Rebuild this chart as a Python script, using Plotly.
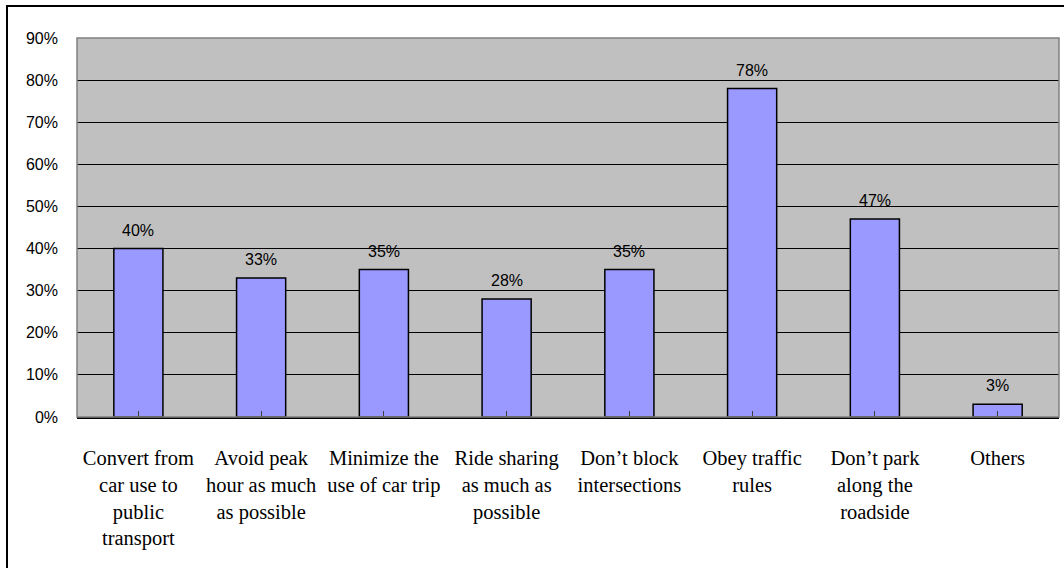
import plotly.graph_objects as go

categories = [
    "Convert from<br>car use to<br>public<br>transport",
    "Avoid peak<br>hour as much<br>as possible",
    "Minimize the<br>use of car trip",
    "Ride sharing<br>as much as<br>possible",
    "Don\u2019t block<br>intersections",
    "Obey traffic<br>rules",
    "Don\u2019t park<br>along the<br>roadside",
    "Others",
]
values = [40, 33, 35, 28, 35, 78, 47, 3]
y_ticks = [0, 10, 20, 30, 40, 50, 60, 70, 80, 90]
y_tick_labels = [f"{v}%" for v in y_ticks]

fig = go.Figure()
fig.add_trace(go.Bar(
    x=list(range(len(categories))),
    y=values,
    marker=dict(color="#9999FF", line=dict(color="#000000", width=1.5)),
    hoverinfo="skip",
))

# value labels above each bar
for i, v in enumerate(values):
    fig.add_annotation(
        x=i, y=v, text=f"{v}%", showarrow=False,
        yanchor="bottom", yshift=8,
        font=dict(family="Liberation Sans, Arial", size=16, color="#000000"),
    )

# plot area outline (grey) and outer frame (left/top edges visible)
fig.add_shape(type="rect", xref="paper", yref="paper", x0=0, y0=0, x1=1, y1=1,
              line=dict(color="#808080", width=1.5), layer="above")
fig.add_shape(type="rect", xref="paper", yref="paper",
              x0=(7 - 77) / 982, y0=1 + 32 / 379, x1=1.2, y1=-0.6,
              line=dict(color="#000000", width=2), layer="above")

fig.update_layout(
    width=1064, height=568,
    margin=dict(l=77, r=5, t=38, b=151),
    paper_bgcolor="#FFFFFF",
    plot_bgcolor="#C0C0C0",
    bargap=0.6,
    showlegend=False,
    xaxis=dict(
        tickmode="array",
        tickvals=list(range(len(categories))),
        ticktext=categories,
        range=[-0.5, len(categories) - 0.5],
        tickson="boundaries",
        ticks="inside", ticklen=6, tickcolor="#404040", tickwidth=1,
        showgrid=False,
        showline=True, linecolor="#000000", linewidth=1.5,
        ticklabelstandoff=22,
        tickfont=dict(family="Liberation Serif, Times New Roman", size=20.5, color="#000000"),
        fixedrange=True,
    ),
    yaxis=dict(
        range=[0, 90],
        tickmode="array",
        tickvals=y_ticks,
        ticktext=y_tick_labels,
        showgrid=True, gridcolor="#000000", gridwidth=1,
        zeroline=False,
        showline=False,
        ticks="",
        ticklabelstandoff=18,
        tickfont=dict(family="Liberation Sans, Arial", size=16, color="#000000"),
        fixedrange=True,
    ),
)

fig.write_html("out.html")
